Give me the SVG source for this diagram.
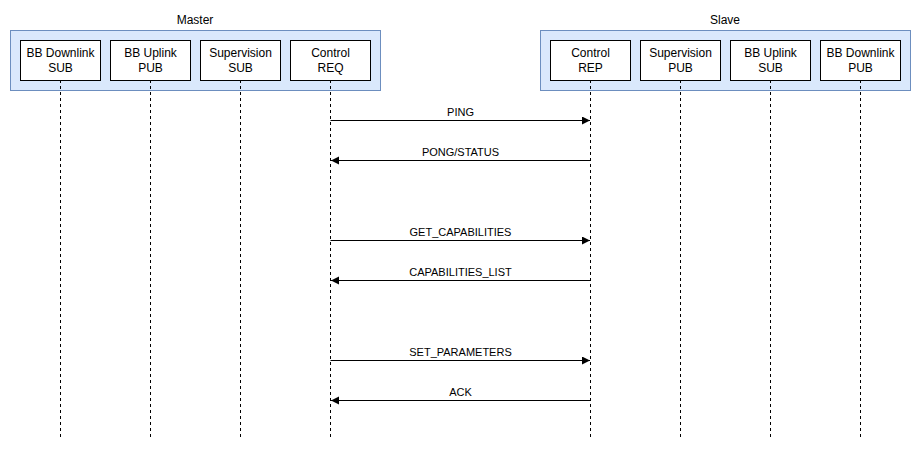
<svg xmlns="http://www.w3.org/2000/svg" width="921" height="451" viewBox="0 0 921 451">
<style>
.grp{fill:#dae8fc;stroke:#6c8ebf;stroke-width:1}
.box{fill:#ffffff;stroke:#000000;stroke-width:1}
.life{stroke:#000000;stroke-width:1;stroke-dasharray:3,3;fill:none}
.msg{stroke:#000000;stroke-width:1;fill:none}
text{font-family:"Liberation Sans",Arial,sans-serif;fill:#000000;text-anchor:middle}
.t12{font-size:12px}
.t11{font-size:11px}
</style>
<defs>
<marker id="ah" markerWidth="10" markerHeight="10" refX="8" refY="4" orient="auto" markerUnits="userSpaceOnUse">
<path d="M0,0 L8,4 L0,8 Z" fill="#000000"/>
</marker>
</defs>
<rect width="921" height="451" fill="#ffffff"/>
<g id="master">
<text class="t12" x="195" y="24">Master</text>
<rect class="grp" x="10.5" y="30.5" width="370" height="60"/>
</g>
<g id="slave">
<text class="t12" x="725" y="24">Slave</text>
<rect class="grp" x="540.5" y="30.5" width="370" height="60"/>
</g>
<g id="lifelines">
<line class="life" x1="60.5" y1="80" x2="60.5" y2="438"/>
<line class="life" x1="150.5" y1="80" x2="150.5" y2="438"/>
<line class="life" x1="240.5" y1="80" x2="240.5" y2="438"/>
<line class="life" x1="330.5" y1="80" x2="330.5" y2="438"/>
<line class="life" x1="590.5" y1="80" x2="590.5" y2="438"/>
<line class="life" x1="680.5" y1="80" x2="680.5" y2="438"/>
<line class="life" x1="770.5" y1="80" x2="770.5" y2="438"/>
<line class="life" x1="860.5" y1="80" x2="860.5" y2="438"/>
</g>
<g id="m-bbdown">
<rect class="box" x="20.5" y="40.5" width="80" height="40"/>
<text class="t12" x="60.5" y="57">BB Downlink</text>
<text class="t12" x="60.5" y="72">SUB</text>
</g>
<g id="m-bbup">
<rect class="box" x="110.5" y="40.5" width="80" height="40"/>
<text class="t12" x="150.5" y="57">BB Uplink</text>
<text class="t12" x="150.5" y="72">PUB</text>
</g>
<g id="m-sup">
<rect class="box" x="200.5" y="40.5" width="80" height="40"/>
<text class="t12" x="240.5" y="57">Supervision</text>
<text class="t12" x="240.5" y="72">SUB</text>
</g>
<g id="m-ctrl">
<rect class="box" x="290.5" y="40.5" width="80" height="40"/>
<text class="t12" x="330.5" y="57">Control</text>
<text class="t12" x="330.5" y="72">REQ</text>
</g>
<g id="s-ctrl">
<rect class="box" x="550.5" y="40.5" width="80" height="40"/>
<text class="t12" x="590.5" y="57">Control</text>
<text class="t12" x="590.5" y="72">REP</text>
</g>
<g id="s-sup">
<rect class="box" x="640.5" y="40.5" width="80" height="40"/>
<text class="t12" x="680.5" y="57">Supervision</text>
<text class="t12" x="680.5" y="72">PUB</text>
</g>
<g id="s-bbup">
<rect class="box" x="730.5" y="40.5" width="80" height="40"/>
<text class="t12" x="770.5" y="57">BB Uplink</text>
<text class="t12" x="770.5" y="72">SUB</text>
</g>
<g id="s-bbdown">
<rect class="box" x="820.5" y="40.5" width="80" height="40"/>
<text class="t12" x="860.5" y="57">BB Downlink</text>
<text class="t12" x="860.5" y="72">PUB</text>
</g>
<g id="connectors">
<line class="msg" x1="330.5" y1="120.5" x2="590" y2="120.5" marker-end="url(#ah)"/>
<text class="t11" x="460.5" y="116">PING</text>
<line class="msg" x1="590.5" y1="160.5" x2="331" y2="160.5" marker-end="url(#ah)"/>
<text class="t11" x="460.5" y="156">PONG/STATUS</text>
<line class="msg" x1="330.5" y1="240.5" x2="590" y2="240.5" marker-end="url(#ah)"/>
<text class="t11" x="460.5" y="236">GET_CAPABILITIES</text>
<line class="msg" x1="590.5" y1="280.5" x2="331" y2="280.5" marker-end="url(#ah)"/>
<text class="t11" x="460.5" y="276">CAPABILITIES_LIST</text>
<line class="msg" x1="330.5" y1="360.5" x2="590" y2="360.5" marker-end="url(#ah)"/>
<text class="t11" x="460.5" y="356">SET_PARAMETERS</text>
<line class="msg" x1="590.5" y1="400.5" x2="331" y2="400.5" marker-end="url(#ah)"/>
<text class="t11" x="460.5" y="396">ACK</text>
</g>
</svg>
